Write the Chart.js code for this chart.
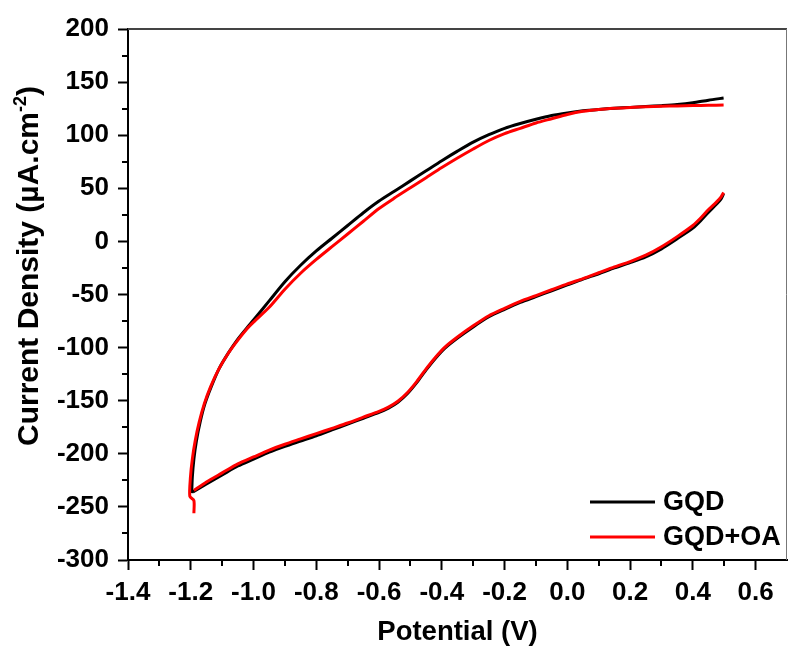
<!DOCTYPE html>
<html>
<head>
<meta charset="utf-8">
<script src="https://cdn.jsdelivr.net/npm/chart.js@4.4.1/dist/chart.umd.min.js"></script>
<style>
  html, body { margin: 0; padding: 0; background: #fff; }
  #wrap { width: 788px; height: 655px; }
</style>
</head>
<body>
<div id="wrap"><canvas id="cv" width="788" height="655"></canvas></div>
<script>
// GQD: anodic sweep (upper branch), then cathodic sweep (lower branch); null breaks the line
const gqdV = [
  -1.197, -1.195, -1.190, -1.182, -1.170, -1.155, -1.135, -1.110, -1.080, -1.050,
  -1.020, -1.000, -0.950, -0.900, -0.850, -0.800, -0.750, -0.700, -0.650, -0.600,
  -0.550, -0.500, -0.450, -0.400, -0.350, -0.300, -0.250, -0.200, -0.150, -0.100,
  -0.050, 0.000, 0.050, 0.100, 0.150, 0.200, 0.250, 0.300, 0.350, 0.400,
  0.450, 0.498,
  0.500,
  0.498, 0.490, 0.475, 0.450, 0.425, 0.400, 0.350, 0.300, 0.250, 0.200,
  0.150, 0.100, 0.050, 0.000, -0.050, -0.100, -0.150, -0.200, -0.250, -0.300,
  -0.350, -0.390, -0.420, -0.450, -0.480, -0.510, -0.540, -0.570, -0.600, -0.650,
  -0.700, -0.750, -0.800, -0.850, -0.900, -0.950, -1.000, -1.050, -1.100, -1.150,
  -1.193
];
const gqdJ = [
  -237, -222, -205, -188, -170, -153, -137, -120, -105, -92,
  -81, -74, -56, -38, -22.5, -9, 3, 15, 27, 38,
  47.5, 57, 66.5, 76, 85, 93.5, 100.5, 106.5, 111, 115,
  118.5, 121, 123, 124.3, 125.3, 126.2, 127, 127.8, 128.8, 130.5,
  133, 135,
  null,
  45, 40, 35, 27.5, 19.5, 12.5, 2.5, -7, -14.5, -20,
  -25, -30.5, -35.5, -41, -46.5, -52, -57.5, -64, -71, -80.5,
  -91, -100.5, -110, -121, -133, -143.5, -151.5, -157, -161, -166.5,
  -172, -177.5, -183, -188, -193, -198.5, -205, -211.5, -220, -228.5,
  -236
];

// GQD+OA
const gqdOaV = [
  -1.190, -1.190, -1.203, -1.201, -1.195, -1.186, -1.173, -1.157, -1.137, -1.112,
  -1.082, -1.050, -1.020, -1.000, -0.950, -0.900, -0.850, -0.800, -0.750, -0.700,
  -0.650, -0.600, -0.550, -0.500, -0.450, -0.400, -0.350, -0.300, -0.250, -0.200,
  -0.150, -0.100, -0.050, 0.000, 0.050, 0.100, 0.150, 0.200, 0.250, 0.300,
  0.350, 0.400, 0.450, 0.498,
  0.500,
  0.498, 0.490, 0.475, 0.450, 0.425, 0.400, 0.350, 0.300, 0.250, 0.200,
  0.150, 0.100, 0.050, 0.000, -0.050, -0.100, -0.150, -0.200, -0.250, -0.300,
  -0.350, -0.390, -0.420, -0.450, -0.480, -0.510, -0.540, -0.570, -0.600, -0.650,
  -0.700, -0.750, -0.800, -0.850, -0.900, -0.950, -1.000, -1.050, -1.100, -1.150,
  -1.190
];
const gqdOaJ = [
  -256, -244, -240, -222, -205, -188, -170, -153, -137, -121,
  -106, -93, -82, -76, -62, -45, -30, -17, -5, 7,
  19, 31, 41, 50.5, 60, 69.5, 78.5, 87, 95, 101.5,
  106.5, 111.5, 115.5, 119.5, 122.5, 124.2, 125.3, 126.1, 126.8, 127.3,
  127.6, 127.9, 128.1, 128.4,
  null,
  46, 42, 37, 30, 22, 15, 4.5, -5, -13, -19,
  -24, -29.5, -35, -40, -45.5, -51, -56.5, -63, -70, -79.5,
  -90, -99.5, -109, -120, -132, -142.5, -150.5, -156, -160, -165.5,
  -171, -176, -181, -186, -191, -196.5, -203, -209.5, -218, -226.5,
  -234.5
];

const seriesNames = ['GQD', 'GQD+OA'];
const seriesColors = ['#000000', '#ff0000'];
const xTickValues = [-1.4, -1.2, -1.0, -0.8, -0.6, -0.4, -0.2, 0.0, 0.2, 0.4, 0.6];
const yTickValues = [-300, -250, -200, -150, -100, -50, 0, 50, 100, 150, 200];
const xMinorTicks = [-1.3, -1.1, -0.9, -0.7, -0.5, -0.3, -0.1, 0.1, 0.3, 0.5];
const yMinorTicks = [-275, -225, -175, -125, -75, -25, 25, 75, 125, 175];

const FONT = '"Liberation Sans", Arial, sans-serif';

function toPoints(xs, ys) {
  return xs.map((x, i) => ({ x: x, y: ys[i] }));
}

// top/right frame, minor ticks, axis titles and legend
const decorations = {
  id: 'decorations',
  afterDraw(chart) {
    const ctx = chart.ctx;
    const area = chart.chartArea;
    const xs = chart.scales.x;
    const ys = chart.scales.y;
    ctx.save();

    ctx.strokeStyle = '#444';
    ctx.lineWidth = 2;
    ctx.beginPath();
    ctx.moveTo(area.left, area.top);
    ctx.lineTo(area.right, area.top);
    ctx.stroke();
    ctx.lineWidth = 1;
    ctx.strokeStyle = '#777';
    ctx.beginPath();
    ctx.moveTo(area.right - 0.5, area.top);
    ctx.lineTo(area.right - 0.5, area.bottom);
    ctx.stroke();

    ctx.strokeStyle = '#000';
    ctx.lineWidth = 2;
    xMinorTicks.forEach(v => {
      const px = Math.round(xs.getPixelForValue(v));
      ctx.beginPath();
      ctx.moveTo(px, area.bottom);
      ctx.lineTo(px, area.bottom + 6);
      ctx.stroke();
    });
    yMinorTicks.forEach(v => {
      const py = Math.round(ys.getPixelForValue(v));
      ctx.beginPath();
      ctx.moveTo(area.left, py);
      ctx.lineTo(area.left - 6, py);
      ctx.stroke();
    });

    ctx.fillStyle = '#000';
    ctx.font = 'bold 27.5px ' + FONT;
    ctx.textAlign = 'center';
    ctx.textBaseline = 'alphabetic';
    ctx.fillText('Potential (V)', (area.left + area.right) / 2, 640);

    // y title with superscript
    ctx.save();
    ctx.translate(38, 266);
    ctx.rotate(-Math.PI / 2);
    const big = 'bold 30px ' + FONT;
    const small = 'bold 18px ' + FONT;
    const p1 = 'Current Density (\u00b5A.cm';
    const p2 = '-2';
    const p3 = ')';
    ctx.font = big;
    const w1 = ctx.measureText(p1).width;
    const w3 = ctx.measureText(p3).width;
    ctx.font = small;
    const w2 = ctx.measureText(p2).width;
    const x0 = -(w1 + w2 + w3) / 2;
    ctx.textAlign = 'left';
    ctx.font = big;
    ctx.fillText(p1, x0, 0);
    ctx.font = small;
    ctx.fillText(p2, x0 + w1, -12);
    ctx.font = big;
    ctx.fillText(p3, x0 + w1 + w2, 0);
    ctx.restore();

    // legend
    const rows = [502, 537];
    ctx.font = 'bold 27px ' + FONT;
    ctx.textAlign = 'left';
    ctx.textBaseline = 'middle';
    seriesNames.forEach((name, i) => {
      ctx.strokeStyle = seriesColors[i];
      ctx.lineWidth = 3;
      ctx.beginPath();
      ctx.moveTo(590, rows[i]);
      ctx.lineTo(655, rows[i]);
      ctx.stroke();
      ctx.fillText(name, 663, rows[i] + 1);
    });

    ctx.restore();
  }
};

function fmtX(v) {
  if (Math.abs(v) < 1e-9) v = 0;
  return v.toFixed(1);
}

const axisGrid = {
  drawOnChartArea: false,
  drawTicks: true,
  tickLength: 10,
  tickWidth: 2,
  tickColor: '#000'
};

new Chart(document.getElementById('cv'), {
  type: 'scatter',
  data: {
    datasets: [
      {
        label: seriesNames[0],
        data: toPoints(gqdV, gqdJ),
        borderColor: seriesColors[0],
        backgroundColor: seriesColors[0],
        borderWidth: 3,
        showLine: true,
        pointRadius: 0,
        tension: 0.25,
        spanGaps: false,
        order: 1
      },
      {
        label: seriesNames[1],
        data: toPoints(gqdOaV, gqdOaJ),
        borderColor: seriesColors[1],
        backgroundColor: seriesColors[1],
        borderWidth: 3,
        showLine: true,
        pointRadius: 0,
        tension: 0.25,
        spanGaps: false,
        order: 0
      }
    ]
  },
  options: {
    responsive: false,
    animation: false,
    layout: { padding: { top: 29, right: 1, left: 0, bottom: 0 } },
    plugins: {
      legend: { display: false },
      tooltip: { enabled: false }
    },
    scales: {
      x: {
        type: 'linear',
        min: -1.4,
        max: 0.7,
        afterFit: (scale) => { scale.height = 95; },
        afterBuildTicks: (scale) => { scale.ticks = xTickValues.map(v => ({ value: v })); },
        border: { display: true, color: '#000', width: 2 },
        grid: axisGrid,
        ticks: {
          autoSkip: false,
          maxRotation: 0,
          padding: 7,
          color: '#000',
          font: { family: FONT, size: 26, weight: 'bold' },
          callback: (v) => fmtX(v)
        }
      },
      y: {
        type: 'linear',
        min: -300,
        max: 200,
        afterFit: (scale) => { scale.width = 128; },
        afterBuildTicks: (scale) => { scale.ticks = yTickValues.map(v => ({ value: v })); },
        border: { display: true, color: '#000', width: 2 },
        grid: axisGrid,
        ticks: {
          autoSkip: false,
          padding: 9,
          color: '#000',
          font: { family: FONT, size: 26, weight: 'bold' }
        }
      }
    }
  },
  plugins: [decorations]
});
</script>
</body>
</html>
